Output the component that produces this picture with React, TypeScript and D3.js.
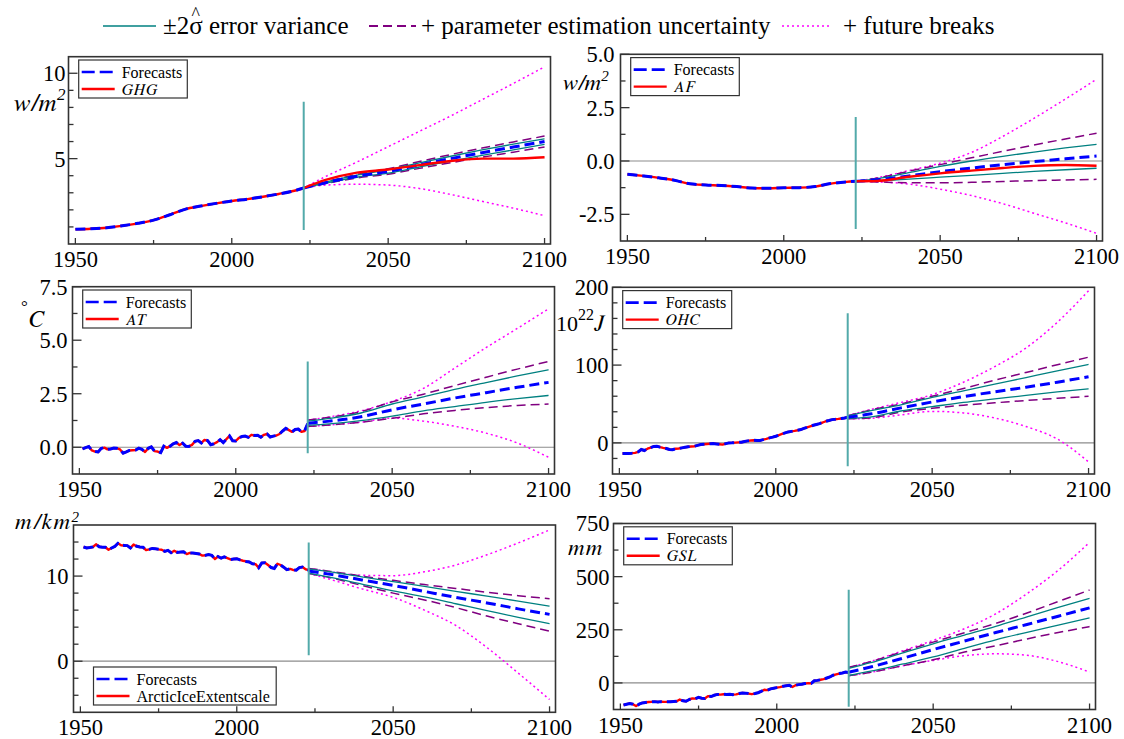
import React from 'react';
import * as d3 from 'd3';

const FONT = '"Liberation Serif"';
const FONT_I = '"FreeSerif"';

// ---------- data ----------
const smoothYears = [1950, 1955, 1960, 1965, 1970, 1975, 1980, 1985, 1990, 1995, 2000, 2005, 2010, 2015, 2020, 2023];
const ghgHist = [0.86, 0.89, 0.95, 1.07, 1.21, 1.40, 1.70, 2.03, 2.22, 2.38, 2.52, 2.63, 2.77, 2.93, 3.12, 3.28];
const afHist = [-0.62, -0.70, -0.79, -0.90, -1.07, -1.12, -1.15, -1.20, -1.27, -1.28, -1.26, -1.25, -1.20, -1.06, -0.98, -0.95];

const annualYears = d3.range(1951, 2024);
const atHist = [-0.08, -0.02, 0.03, -0.15, -0.20, -0.22, -0.05, -0.02, -0.10, -0.08, -0.04, -0.05, -0.10, -0.28, -0.22, -0.15, -0.14, -0.13, -0.04, -0.10,
  -0.22, -0.05, 0.02, -0.18, -0.20, -0.25, 0.05, -0.03, 0.05, 0.16, 0.22, 0.10, 0.19, 0.05, 0.04, 0.11, 0.28, 0.31, 0.20, 0.34,
  0.31, 0.12, 0.16, 0.24, 0.35, 0.22, 0.38, 0.53, 0.30, 0.29, 0.44, 0.50, 0.52, 0.46, 0.58, 0.55, 0.56, 0.47, 0.58, 0.62,
  0.48, 0.52, 0.55, 0.62, 0.76, 0.88, 0.80, 0.72, 0.83, 0.85, 0.72, 0.76, 1.10];
const ohcHist = [-13.7, -13.6, -13.5, -13.2, -12.8, -11.5, -8.5, -9.8, -7.5, -6.0, -4.5, -4.3, -5.5, -6.4, -7.2, -8.5, -8.8, -7.5, -7.2, -6.4,
  -5.7, -5.0, -4.6, -4.3, -3.2, -2.2, -1.8, -1.5, -1.2, -0.9, -1.3, -1.7, -2.2, -1.0, 0.0, 0.1, 0.3, 0.6, 0.85, 1.8,
  2.6, 3.0, 3.4, 3.0, 3.2, 4.2, 5.2, 6.4, 7.4, 8.5, 10.0, 11.5, 12.8, 14.1, 14.8, 15.4, 16.2, 17.1, 18.6, 20.0,
  21.3, 22.6, 23.7, 24.8, 26.2, 27.8, 28.8, 29.9, 30.3, 30.8, 31.4, 32.0, 32.9];
const iceHist = [13.42, 13.30, 13.35, 13.42, 13.73, 13.45, 13.40, 13.38, 13.10, 13.30, 13.48, 13.85, 13.62, 13.60, 13.58, 13.30, 13.70, 13.50, 13.42, 13.40,
  13.05, 13.14, 13.25, 13.20, 13.14, 13.10, 12.90, 13.02, 12.75, 12.98, 12.78, 12.82, 12.85, 12.58, 12.72, 12.70, 12.65, 12.60, 12.40, 12.44,
  12.52, 12.44, 12.00, 12.30, 12.10, 12.25, 12.10, 11.95, 12.00, 12.04, 11.90, 11.80, 11.72, 11.65, 11.45, 11.40, 10.98, 11.55, 11.57, 11.30,
  11.00, 10.90, 11.45, 11.30, 11.05, 10.75, 10.85, 10.72, 10.70, 11.00, 11.06, 10.80, 10.70];
const gslHist = [-104, -100, -97, -100, -109, -100, -94, -92, -90, -89, -88, -90, -88, -89, -89, -88, -87, -86, -78, -84,
  -86, -78, -73, -74, -68, -72, -73, -62, -64, -58, -54, -55, -53, -54, -53, -55, -54, -50, -47, -48,
  -50, -53, -50, -46, -40, -32, -34, -28, -25, -22, -20, -16, -13, -11, -19, -11, -8, -6, -3, -1,
  -2, 10, 12, 15, 18, 23, 28, 36, 40, 44, 47, 51, 49];

const fcYears = [2023, 2030, 2040, 2050, 2060, 2070, 2080, 2090, 2100];

const ghgFuture = [3.28, 3.75, 4.18, 4.36, 4.62, 4.86, 5.0, 5.0, 5.08];
const ghgMean = [3.28, 3.59, 3.97, 4.25, 4.63, 5.0, 5.35, 5.68, 6.0];
const ghgErrUp = [3.28, 3.62, 4.03, 4.35, 4.75, 5.14, 5.51, 5.85, 6.16];
const ghgErrLo = [3.28, 3.56, 3.91, 4.15, 4.51, 4.86, 5.19, 5.51, 5.84];
const ghgParUp = [3.28, 3.64, 4.07, 4.41, 4.83, 5.24, 5.62, 5.98, 6.32];
const ghgParLo = [3.28, 3.54, 3.87, 4.09, 4.43, 4.76, 5.08, 5.38, 5.68];
const ghgBrkUp = [3.28, 3.95, 4.8, 5.7, 6.6, 7.5, 8.45, 9.4, 10.38];
const ghgBrkLo = [3.28, 3.45, 3.5, 3.45, 3.25, 2.9, 2.5, 2.1, 1.66];

const afFuture = [-0.95, -0.93, -0.74, -0.58, -0.45, -0.33, -0.23, -0.19, -0.22];
const afMean = [-0.95, -0.88, -0.70, -0.50, -0.33, -0.17, -0.03, 0.10, 0.23];
const afErrUp = [-0.95, -0.83, -0.55, -0.25, 0.0, 0.22, 0.42, 0.61, 0.78];
const afErrLo = [-0.95, -0.93, -0.85, -0.76, -0.67, -0.58, -0.49, -0.41, -0.34];
const afParUp = [-0.95, -0.80, -0.48, -0.17, 0.15, 0.45, 0.75, 1.03, 1.30];
const afParLo = [-0.95, -0.98, -1.02, -1.02, -1.0, -0.96, -0.92, -0.89, -0.86];
const afBrkUp = [-0.95, -0.78, -0.45, -0.10, 0.40, 1.15, 2.0, 2.9, 3.83];
const afBrkLo = [-0.95, -0.98, -1.08, -1.32, -1.62, -2.0, -2.45, -2.9, -3.39];

const atMean = [1.12, 1.22, 1.42, 1.75, 2.02, 2.30, 2.55, 2.80, 3.03];
const atErrUp = [1.22, 1.35, 1.60, 2.02, 2.35, 2.70, 3.02, 3.33, 3.62];
const atErrLo = [1.02, 1.09, 1.24, 1.45, 1.70, 1.90, 2.10, 2.27, 2.42];
const atParUp = [1.27, 1.40, 1.67, 2.12, 2.48, 2.88, 3.27, 3.65, 4.01];
const atParLo = [0.97, 1.04, 1.17, 1.35, 1.56, 1.72, 1.85, 1.95, 2.02];
const atBrkUp = [1.27, 1.42, 1.70, 2.14, 2.75, 3.70, 4.65, 5.55, 6.47];
const atBrkLo = [0.97, 1.04, 1.17, 1.36, 1.22, 0.98, 0.66, 0.20, -0.47];

const ohcMean = [33, 37, 45, 52.6, 59.5, 65.7, 71.5, 78, 85];
const ohcErrUp = [34.5, 41, 49, 58.6, 67, 75.5, 84, 92.5, 100.8];
const ohcErrLo = [31.5, 33, 41, 46.5, 52, 56.5, 61, 65.5, 69.6];
const ohcParUp = [35, 42, 50, 60, 70, 80.5, 90.5, 100.5, 110.2];
const ohcParLo = [31, 32, 39.5, 44.5, 48.5, 51.5, 54.5, 57.3, 59.8];
const ohcBrkUp = [35, 42.5, 52, 62, 78, 98, 122, 155, 195.6];
const ohcBrkLo = [31, 31.5, 36, 40.5, 38.5, 32, 21, 5, -24.4];

const iceMean = [10.6, 10.2, 9.55, 8.9, 8.2, 7.5, 6.85, 6.15, 5.5];
const iceErrUp = [10.85, 10.5, 9.9, 9.35, 8.8, 8.2, 7.65, 7.05, 6.47];
const iceErrLo = [10.35, 9.85, 9.05, 8.25, 7.55, 6.75, 5.95, 5.15, 4.4];
const iceParUp = [10.9, 10.55, 10.0, 9.5, 9.0, 8.55, 8.1, 7.7, 7.34];
const iceParLo = [10.3, 9.8, 8.9, 8.0, 7.2, 6.3, 5.3, 4.4, 3.53];
const iceBrkUp = [10.9, 10.5, 10.1, 10.05, 10.5, 11.3, 12.5, 13.9, 15.42];
const iceBrkLo = [10.3, 9.6, 8.5, 7.5, 6.0, 4.2, 1.6, -1.4, -4.5];

const gslMean = [50, 75, 115, 157, 197, 237, 275, 314, 353];
const gslErrUp = [68, 95, 140, 184, 225, 266, 311, 355, 398];
const gslErrLo = [35, 55, 88, 122, 163, 203, 238, 272, 306];
const gslParUp = [73, 100, 146, 192, 236, 280, 329, 383, 437];
const gslParLo = [34, 50, 80, 109, 145, 175, 207, 237, 265];
const gslBrkUp = [73, 101, 150, 200, 255, 325, 420, 530, 661];
const gslBrkLo = [34, 50, 80, 106, 128, 137, 130, 100, 51];

const xTicksMajor = [1950, 2000, 2050, 2100];
const xTicksMinor = [1975, 2025, 2075];
const breakYear = 2023;

// ---------- layout ----------
const X_DOMAIN = [1947.8, 2101.9];
const PLOT_W = 482;

type Cfg = {
  left: number; top: number; bottom: number;
  yDomain: [number, number];
  major: number[]; minor: number[]; fmt: (v: number) => string; labelGap: number;
  zero: boolean;
  histX: number[]; histY: number[]; histSmooth: boolean;
  future?: number[];
  mean: number[]; errUp: number[]; errLo: number[]; parUp: number[]; parLo: number[]; brkUp: number[]; brkLo: number[];
  vline: [number, number];
  legendName: string; legendItalic: boolean; legendPos: 'top' | 'bottom'; legendW: number;
  unit: React.ReactNode;
};

const f1 = (v: number) => v.toFixed(1);
const f0 = (v: number) => String(v);

const RS = { fontFamily: FONT };
const IS = { fontFamily: FONT_I, fontStyle: 'italic' as const };

const panels: Cfg[] = [
  {
    left: 68.5, top: 56.7, bottom: 244, yDomain: [0, 10.97],
    major: [5, 10], minor: [1, 2, 3, 4, 6, 7, 8, 9], fmt: f0, labelGap: 3, zero: false,
    histX: smoothYears, histY: ghgHist, histSmooth: true, future: ghgFuture,
    mean: ghgMean, errUp: ghgErrUp, errLo: ghgErrLo, parUp: ghgParUp, parLo: ghgParLo, brkUp: ghgBrkUp, brkLo: ghgBrkLo,
    vline: [0.82, 8.33], legendName: 'GHG', legendItalic: true, legendPos: 'top', legendW: 108.6,
    unit: (<text x={13} y={110.5} style={IS} fontSize={25} letterSpacing={0.5}>w/m<tspan style={RS} fontSize={17} dy={-11}>2</tspan></text>),
  },
  {
    left: 620.5, top: 54.3, bottom: 241, yDomain: [-3.75, 5],
    major: [-2.5, 0, 2.5, 5], minor: [-1.25, 1.25, 3.75], fmt: f1, labelGap: 6, zero: true,
    histX: smoothYears, histY: afHist, histSmooth: true, future: afFuture,
    mean: afMean, errUp: afErrUp, errLo: afErrLo, parUp: afParUp, parLo: afParLo, brkUp: afBrkUp, brkLo: afBrkLo,
    vline: [-3.19, 2.06], legendName: 'AF', legendItalic: true, legendPos: 'top', legendW: 108.6,
    unit: (<text x={562} y={89.5} style={IS} fontSize={23}>w/m<tspan style={RS} fontSize={15} dy={-9}>2</tspan></text>),
  },
  {
    left: 72.5, top: 286.7, bottom: 474, yDomain: [-1.25, 7.5],
    major: [0, 2.5, 5, 7.5], minor: [1.25, 3.75, 6.25], fmt: f1, labelGap: 5, zero: true,
    histX: annualYears, histY: atHist, histSmooth: false,
    mean: atMean, errUp: atErrUp, errLo: atErrLo, parUp: atParUp, parLo: atParLo, brkUp: atBrkUp, brkLo: atBrkLo,
    vline: [-0.28, 4.0], legendName: 'AT', legendItalic: true, legendPos: 'top', legendW: 108.6,
    unit: (<text x={21} y={312} style={RS} fontSize={17}>°<tspan style={IS} fontSize={24} dx={1} dy={14.5}>C</tspan></text>),
  },
  {
    left: 612.5, top: 287.3, bottom: 474, yDomain: [-40, 200],
    major: [0, 100, 200], minor: [-20, 20, 40, 60, 80, 120, 140, 160, 180], fmt: f0, labelGap: 4, zero: true,
    histX: annualYears, histY: ohcHist, histSmooth: false,
    mean: ohcMean, errUp: ohcErrUp, errLo: ohcErrLo, parUp: ohcParUp, parLo: ohcParLo, brkUp: ohcBrkUp, brkLo: ohcBrkLo,
    vline: [-30, 166.7], legendName: 'OHC', legendItalic: true, legendPos: 'top', legendW: 109,
    unit: (<text x={556} y={331} style={RS} fontSize={22}>10<tspan fontSize={16} dy={-11}>22</tspan><tspan style={IS} dy={11} fontSize={23}>J</tspan></text>),
  },
  {
    left: 73.5, top: 525, bottom: 712.3, yDomain: [-6, 16],
    major: [0, 10], minor: [-4, -2, 2, 4, 6, 8, 12, 14], fmt: f0, labelGap: 5, zero: true,
    histX: annualYears, histY: iceHist, histSmooth: false,
    mean: iceMean, errUp: iceErrUp, errLo: iceErrLo, parUp: iceParUp, parLo: iceParLo, brkUp: iceBrkUp, brkLo: iceBrkLo,
    vline: [0.7, 13.93], legendName: 'ArcticIceExtentscale', legendItalic: false, legendPos: 'bottom', legendW: 182.7,
    unit: (<text x={15} y={528.5} style={IS} fontSize={23} letterSpacing={1.5}>m/km<tspan style={RS} fontSize={15} dy={-7}>2</tspan></text>),
  },
  {
    left: 613.5, top: 523.5, bottom: 709.5, yDomain: [-125, 750],
    major: [0, 250, 500, 750], minor: [125, 375, 625], fmt: f0, labelGap: 4, zero: true,
    histX: annualYears, histY: gslHist, histSmooth: false,
    mean: gslMean, errUp: gslErrUp, errLo: gslErrLo, parUp: gslParUp, parLo: gslParLo, brkUp: gslBrkUp, brkLo: gslBrkLo,
    vline: [-112.5, 438], legendName: 'GSL', legendItalic: true, legendPos: 'top', legendW: 108.6,
    unit: (<text x={568} y={554.5} style={IS} fontSize={23} letterSpacing={1}>mm</text>),
  },
];

const C_BLUE = '#0000ff';
const C_RED = '#ff0000';
const C_TEAL = '#008080';
const C_PURPLE = '#800080';
const C_MAGENTA = '#ff00ff';
const C_VLINE = '#52aaaa';
const C_FRAME = '#333333';

function Panel({ cfg, idx }: { cfg: Cfg; idx: number }) {
  const x = d3.scaleLinear().domain(X_DOMAIN).range([cfg.left, cfg.left + PLOT_W]);
  const y = d3.scaleLinear().domain(cfg.yDomain).range([cfg.bottom, cfg.top]);
  const smooth = d3.line<[number, number]>().x(d => x(d[0])).y(d => y(d[1])).curve(d3.curveMonotoneX);
  const linear = d3.line<[number, number]>().x(d => x(d[0])).y(d => y(d[1]));
  const zipFc = (arr: number[]) => fcYears.map((yr, i) => [yr, arr[i]] as [number, number]);
  const hist = cfg.histX.map((yr, i) => [yr, cfg.histY[i]] as [number, number]);
  const histPath = (cfg.histSmooth ? smooth : linear)(hist) || '';
  const fcMeanPath = smooth(zipFc(cfg.mean)) || '';
  const clipId = `clip${idx}`;

  const L = cfg.left, R = cfg.left + PLOT_W, T = cfg.top, B = cfg.bottom;

  const lgH = 38;
  const lgX = cfg.legendPos === 'top' ? L + 10.2 : L + 20;
  const lgY = cfg.legendPos === 'top' ? T + 3.3 : B - 7.3 - lgH;

  return (
    <g>
      <defs>
        <clipPath id={clipId}><rect x={L} y={T} width={PLOT_W} height={B - T} /></clipPath>
      </defs>
      <rect x={L} y={T} width={PLOT_W} height={B - T} fill="#fff" />
      <g clipPath={`url(#${clipId})`}>
        {cfg.zero && (
          <line x1={L} x2={R} y1={y(0)} y2={y(0)} stroke="#8c8c8c" strokeWidth={1.2} />
        )}
        <path d={smooth(zipFc(cfg.brkUp)) || ''} fill="none" stroke={C_MAGENTA} strokeWidth={1.5} strokeDasharray="2,3" />
        <path d={smooth(zipFc(cfg.brkLo)) || ''} fill="none" stroke={C_MAGENTA} strokeWidth={1.5} strokeDasharray="2,3" />
        <path d={smooth(zipFc(cfg.parUp)) || ''} fill="none" stroke={C_PURPLE} strokeWidth={1.5} strokeDasharray="9,5" />
        <path d={smooth(zipFc(cfg.parLo)) || ''} fill="none" stroke={C_PURPLE} strokeWidth={1.5} strokeDasharray="9,5" />
        <path d={smooth(zipFc(cfg.errUp)) || ''} fill="none" stroke={C_TEAL} strokeWidth={1.3} />
        <path d={smooth(zipFc(cfg.errLo)) || ''} fill="none" stroke={C_TEAL} strokeWidth={1.3} />
        <path d={histPath} fill="none" stroke={C_RED} strokeWidth={2.4} strokeLinejoin="round" />
        <path d={histPath} fill="none" stroke={C_BLUE} strokeWidth={3} strokeDasharray="10,5" />
        <path d={fcMeanPath} fill="none" stroke={C_BLUE} strokeWidth={3} strokeDasharray="10,5" />
        {cfg.future && (
          <path d={smooth(zipFc(cfg.future)) || ''} fill="none" stroke={C_RED} strokeWidth={2.4} />
        )}
        <line x1={x(breakYear)} x2={x(breakYear)} y1={y(cfg.vline[0])} y2={y(cfg.vline[1])} stroke={C_VLINE} strokeWidth={2} />
      </g>
      <rect x={L} y={T} width={PLOT_W} height={B - T} fill="none" stroke={C_FRAME} strokeWidth={1.6} />
      {xTicksMajor.map(t => (
        <g key={`xm${t}`}>
          <line x1={x(t)} x2={x(t)} y1={B} y2={B - 6} stroke={C_FRAME} strokeWidth={1.3} />
          <text x={x(t)} y={B + 23} textAnchor="middle" style={RS} fontSize={22.5}>{t}</text>
        </g>
      ))}
      {xTicksMinor.map(t => (
        <line key={`xn${t}`} x1={x(t)} x2={x(t)} y1={B} y2={B - 4} stroke={C_FRAME} strokeWidth={1.3} />
      ))}
      {cfg.major.map(t => (
        <g key={`ym${t}`}>
          <line x1={L} x2={L + 9} y1={y(t)} y2={y(t)} stroke={C_FRAME} strokeWidth={1.3} />
          <text x={L - cfg.labelGap} y={y(t)} dy="0.35em" textAnchor="end" style={RS} fontSize={22.5}>{cfg.fmt(t)}</text>
        </g>
      ))}
      {cfg.minor.map(t => (
        <line key={`yn${t}`} x1={L} x2={L + 5} y1={y(t)} y2={y(t)} stroke={C_FRAME} strokeWidth={1.3} />
      ))}
      <g>
        <rect x={lgX} y={lgY} width={cfg.legendW} height={lgH} fill="#fff" stroke={C_FRAME} strokeWidth={1.2} />
        <line x1={lgX + 3} x2={lgX + 36} y1={lgY + 12} y2={lgY + 12} stroke={C_BLUE} strokeWidth={2.6} strokeDasharray="13,5" />
        <line x1={lgX + 3} x2={lgX + 36} y1={lgY + 29} y2={lgY + 29} stroke={C_RED} strokeWidth={2.4} />
        <text x={lgX + 43} y={lgY + 17.5} style={RS} fontSize={16}>Forecasts</text>
        <text x={lgX + 43} y={lgY + 34.5} style={cfg.legendItalic ? IS : RS} fontSize={16}
          letterSpacing={cfg.legendItalic ? 1.5 : 0}>{cfg.legendName}</text>
      </g>
      {cfg.unit}
    </g>
  );
}

function TopLegend() {
  return (
    <g fontSize={25}>
      <line x1={103} x2={156} y1={26} y2={26} stroke={C_TEAL} strokeWidth={1.5} />
      <text x={163} y={33.5} style={RS}>±2σ<tspan fontSize={18} dx={-11.1} dy={-14}>^</tspan><tspan dx={2.7} dy={14}> error variance</tspan></text>
      <line x1={369} x2={416} y1={26} y2={26} stroke={C_PURPLE} strokeWidth={2} strokeDasharray="9,5" />
      <text x={421} y={33.5} style={RS}>+ parameter estimation uncertainty</text>
      <line x1={782} x2={832} y1={26} y2={26} stroke={C_MAGENTA} strokeWidth={1.5} strokeDasharray="2,3" />
      <text x={843} y={33.5} style={RS}>+ future breaks</text>
    </g>
  );
}

export default function App() {
  return (
    <div style={{ position: 'absolute', left: 0, top: 0 }}>
      <svg width={1124} height={739} viewBox="0 0 1124 739" style={{ display: 'block', background: '#fff' }}>
        <TopLegend />
        {panels.map((p, i) => <Panel key={i} cfg={p} idx={i} />)}
      </svg>
    </div>
  );
}
